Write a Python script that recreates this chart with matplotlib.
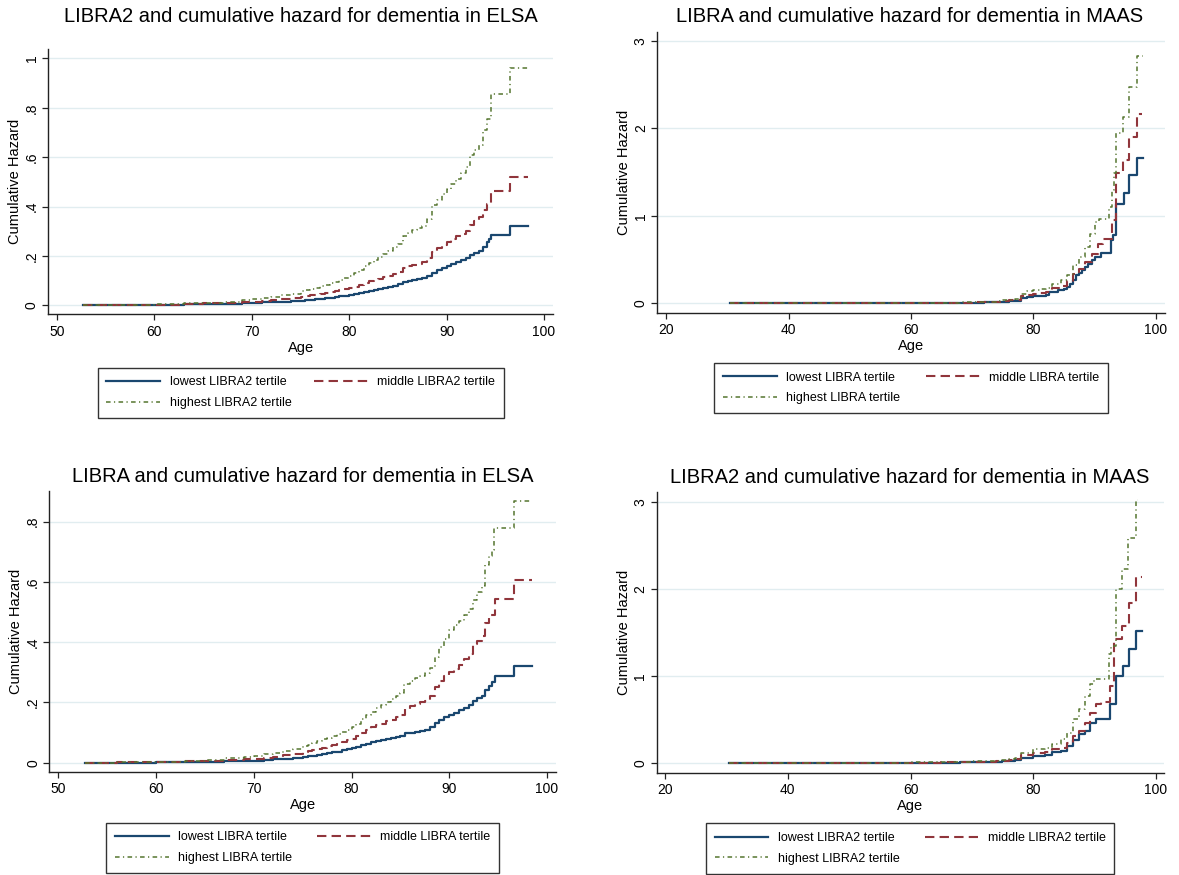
import numpy as np
import matplotlib.pyplot as plt

plt.rcParams['font.family'] = ['Liberation Sans', 'DejaVu Sans']

# ELSA, LIBRA2 tertiles (top left)
elsa2_age_low = [52.7, 56, 60, 63, 65, 67, 69, 70, 71, 72, 73, 74, 75, 75.5, 76, 76.5, 77, 77.5, 78, 78.5, 79, 79.5,
                 80, 80.5, 81, 81.5, 82, 82.5, 83, 83.5, 84, 84.5, 85, 85.5, 86, 86.5, 87, 87.5, 88, 88.5, 89, 89.5,
                 90, 90.5, 91, 91.5, 92, 92.4, 92.8, 93.3, 93.7, 94.1, 94.4, 94.6, 96.5, 98.4]
elsa2_low = [0, 0.0005, 0.002, 0.004, 0.005, 0.007, 0.009, 0.010, 0.012, 0.013, 0.015, 0.017, 0.019, 0.021, 0.023,
             0.025, 0.027, 0.029, 0.032, 0.035, 0.037, 0.040, 0.043, 0.047, 0.051, 0.055, 0.060, 0.064, 0.068, 0.072,
             0.076, 0.080, 0.086, 0.095, 0.098, 0.102, 0.106, 0.109, 0.118, 0.132, 0.142, 0.152, 0.160, 0.168, 0.176,
             0.184, 0.192, 0.205, 0.213, 0.222, 0.238, 0.257, 0.270, 0.286, 0.323, 0.323]
elsa2_age_mid = [52.7, 56, 60, 63, 65, 67, 69, 70, 71, 72, 73, 74, 75, 75.5, 76, 76.5, 77, 77.5, 78, 78.5, 79, 79.5,
                 80, 80.5, 81, 81.5, 82, 82.5, 83, 83.5, 84, 84.5, 85, 85.5, 86, 86.5, 87, 87.5, 88, 88.5, 89, 89.5,
                 90, 90.5, 91, 91.5, 92, 92.4, 92.8, 93.3, 93.7, 94.1, 94.6, 96.5, 98.4]
elsa2_mid = [0, 0.001, 0.003, 0.006, 0.008, 0.010, 0.013, 0.015, 0.018, 0.021, 0.025, 0.030, 0.035, 0.038, 0.041,
             0.044, 0.047, 0.050, 0.054, 0.058, 0.062, 0.066, 0.070, 0.076, 0.083, 0.090, 0.097, 0.103, 0.108, 0.114,
             0.120, 0.127, 0.135, 0.150, 0.158, 0.164, 0.169, 0.174, 0.190, 0.217, 0.232, 0.246, 0.258, 0.270, 0.280,
             0.291, 0.300, 0.325, 0.342, 0.358, 0.385, 0.412, 0.464, 0.521, 0.521]
elsa2_age_high = [52.7, 56, 60, 63, 65, 67, 69, 70, 71, 72, 73, 74, 75, 75.5, 76, 76.5, 77, 77.5, 78, 78.5, 79, 79.5,
                  80, 80.5, 81, 81.5, 82, 82.5, 83, 83.5, 84, 84.5, 85, 85.5, 86, 86.5, 87, 87.5, 88, 88.5, 89, 89.5,
                  90, 90.5, 91, 91.5, 92, 92.4, 92.8, 93.3, 93.7, 94.1, 94.6, 96.5, 98.4]
elsa2_high = [0, 0.001, 0.004, 0.008, 0.011, 0.015, 0.021, 0.025, 0.030, 0.035, 0.041, 0.048, 0.057, 0.061, 0.066,
              0.071, 0.077, 0.082, 0.090, 0.095, 0.102, 0.110, 0.120, 0.132, 0.145, 0.160, 0.172, 0.183, 0.195, 0.208,
              0.222, 0.236, 0.250, 0.283, 0.295, 0.305, 0.312, 0.320, 0.350, 0.405, 0.425, 0.450, 0.470, 0.492, 0.512,
              0.535, 0.560, 0.610, 0.630, 0.650, 0.710, 0.755, 0.854, 0.960, 0.960]

# MAAS, LIBRA tertiles (top right)
maas_age_low = [30.4, 50, 60, 65, 68, 70, 72, 74, 75, 76, 77, 78, 79, 80, 81, 82, 82.5, 84, 85, 85.5, 86, 86.5, 87,
                87.5, 88, 88.5, 89, 89.5, 90, 91, 92.6, 93.05, 93.45, 94.8, 95.6, 96.9, 97.9]
maas_low = [0, 0, 0.001, 0.002, 0.004, 0.006, 0.009, 0.013, 0.017, 0.022, 0.030, 0.057, 0.070, 0.084, 0.088, 0.092,
            0.130, 0.149, 0.168, 0.190, 0.225, 0.270, 0.320, 0.350, 0.385, 0.420, 0.454, 0.500, 0.530, 0.576, 0.729,
            0.779, 1.141, 1.256, 1.466, 1.664, 1.664]
maas_age_mid = [30.4, 50, 60, 65, 68, 70, 72, 74, 75, 76, 77, 78, 79, 80, 81, 82, 83, 84.5, 85.5, 86.5, 87.5, 88.5,
                89.5, 90.5, 91.3, 92.8, 93.5, 94.7, 95.6, 96.9, 97.8]
maas_mid = [0, 0, 0.002, 0.004, 0.007, 0.010, 0.013, 0.018, 0.024, 0.032, 0.042, 0.084, 0.100, 0.110, 0.120, 0.130,
            0.176, 0.195, 0.256, 0.340, 0.397, 0.473, 0.561, 0.683, 0.740, 0.950, 1.485, 1.637, 1.905, 2.164, 2.164]
maas_age_high = [30.4, 50, 60, 65, 68, 70, 72, 74, 75, 76, 77, 78, 79, 80, 81, 82, 83, 84.5, 85.5, 86.5, 87.5, 88.5,
                 89.3, 90.0, 90.8, 92.3, 92.8, 93.2, 93.55, 94.7, 95.7, 96.9, 97.9]
maas_high = [0, 0, 0.003, 0.006, 0.010, 0.014, 0.019, 0.026, 0.032, 0.042, 0.053, 0.110, 0.135, 0.156, 0.165, 0.180,
             0.225, 0.263, 0.320, 0.435, 0.530, 0.645, 0.798, 0.931, 0.962, 1.100, 1.300, 1.485, 1.943, 2.134, 2.477,
             2.828, 2.828]

# ELSA, LIBRA tertiles (bottom left)
elsa_age_low = [52.7, 56, 60, 63, 65, 67, 69, 70, 71, 72, 73, 74, 75, 75.5, 76, 76.5, 77, 77.5, 78, 78.5, 79, 79.5,
                80, 80.5, 81, 81.5, 82, 82.5, 83, 83.5, 84, 84.5, 85, 85.5, 86, 86.5, 87, 87.5, 88, 88.5, 89, 89.5,
                90, 90.5, 91, 91.5, 92, 92.4, 92.8, 93.3, 93.7, 94.1, 94.4, 94.7, 96.6, 98.45]
elsa_low = [0, 0.0005, 0.001, 0.002, 0.003, 0.005, 0.006, 0.007, 0.009, 0.011, 0.013, 0.016, 0.019, 0.021, 0.023,
            0.025, 0.028, 0.031, 0.034, 0.037, 0.041, 0.045, 0.049, 0.053, 0.057, 0.063, 0.068, 0.072, 0.076, 0.079,
            0.082, 0.086, 0.090, 0.097, 0.100, 0.103, 0.105, 0.108, 0.118, 0.133, 0.142, 0.150, 0.158, 0.166, 0.174,
            0.181, 0.190, 0.206, 0.214, 0.222, 0.240, 0.255, 0.268, 0.289, 0.322, 0.322]
elsa_age_mid = [52.7, 56, 60, 63, 65, 67, 69, 70, 71, 72, 73, 74, 75, 75.5, 76, 76.5, 77, 77.5, 78, 78.5, 79, 79.5,
                80, 80.5, 81, 81.5, 82, 82.5, 83, 83.5, 84, 84.5, 85, 85.5, 86, 86.5, 87, 87.5, 88, 88.5, 89, 89.5,
                90, 90.5, 91, 91.5, 92, 92.4, 92.8, 93.3, 93.7, 94.1, 94.7, 96.6, 98.45]
elsa_mid = [0, 0.0008, 0.002, 0.004, 0.006, 0.009, 0.011, 0.013, 0.016, 0.020, 0.024, 0.029, 0.036, 0.039, 0.042,
            0.046, 0.050, 0.055, 0.060, 0.065, 0.070, 0.075, 0.080, 0.088, 0.097, 0.108, 0.118, 0.124, 0.130, 0.137,
            0.143, 0.150, 0.158, 0.178, 0.188, 0.195, 0.200, 0.205, 0.220, 0.250, 0.272, 0.288, 0.300, 0.312, 0.325,
            0.345, 0.362, 0.395, 0.405, 0.420, 0.463, 0.490, 0.543, 0.608, 0.608]
elsa_age_high = [52.7, 56, 60, 63, 65, 67, 69, 70, 71, 72, 73, 74, 75, 75.5, 76, 76.5, 77, 77.5, 78, 78.5, 79, 79.5,
                 80, 80.5, 81, 81.5, 82, 82.5, 83, 83.5, 84, 84.5, 85, 85.4, 86, 86.5, 87, 87.5, 88, 88.5, 89, 89.5,
                 90, 90.5, 91, 91.5, 92, 92.4, 92.8, 93.3, 93.7, 94.1, 94.4, 94.6, 96.6, 98.45]
elsa_high = [0, 0.001, 0.003, 0.006, 0.009, 0.014, 0.019, 0.022, 0.028, 0.033, 0.040, 0.046, 0.055, 0.060, 0.065,
             0.071, 0.077, 0.083, 0.090, 0.096, 0.102, 0.110, 0.118, 0.130, 0.145, 0.158, 0.168, 0.180, 0.190, 0.200,
             0.210, 0.222, 0.232, 0.260, 0.272, 0.280, 0.287, 0.297, 0.315, 0.350, 0.385, 0.412, 0.440, 0.458, 0.470,
             0.490, 0.510, 0.540, 0.565, 0.585, 0.655, 0.685, 0.705, 0.780, 0.870, 0.870]

# MAAS, LIBRA2 tertiles (bottom right)
maas2_age_low = [30.4, 50, 60, 65, 68, 70, 72, 74, 75, 76, 77, 78, 80, 82, 83, 84.5, 85.5, 86.5, 87.5, 88.5, 89.3,
                 90.3, 92.6, 93.45, 94.7, 95.6, 96.7, 97.8]
maas2_low = [0, 0, 0.001, 0.002, 0.004, 0.006, 0.009, 0.012, 0.015, 0.020, 0.027, 0.058, 0.077, 0.088, 0.123, 0.134,
             0.190, 0.260, 0.326, 0.364, 0.460, 0.499, 0.671, 0.997, 1.112, 1.304, 1.515, 1.515]
maas2_age_mid = [30.4, 50, 60, 65, 68, 70, 72, 74, 75, 76, 77, 78, 80, 82, 83, 84.5, 85.5, 86.5, 87.5, 88.5, 89.3,
                 90.2, 91.0, 92.5, 93.2, 94.5, 95.6, 96.7, 97.8]
maas2_mid = [0, 0, 0.002, 0.004, 0.007, 0.010, 0.013, 0.017, 0.022, 0.030, 0.046, 0.084, 0.115, 0.127, 0.153, 0.173,
             0.230, 0.307, 0.364, 0.460, 0.575, 0.671, 0.702, 0.882, 1.420, 1.573, 1.841, 2.140, 2.140]
maas2_age_high = [30.4, 50, 60, 65, 68, 70, 72, 74, 75, 76, 77, 78, 80, 82, 83, 84.5, 85.5, 86.5, 87.5, 88.5, 89.2,
                  90.0, 92.35, 92.7, 93.45, 94.5, 95.5, 96.7, 97.1]
maas2_high = [0, 0, 0.003, 0.006, 0.010, 0.014, 0.019, 0.025, 0.031, 0.042, 0.058, 0.115, 0.153, 0.173, 0.211, 0.269,
              0.345, 0.499, 0.614, 0.767, 0.901, 0.967, 1.250, 1.343, 1.995, 2.225, 2.589, 3.020, 3.020]

elsa_xticks = [50, 60, 70, 80, 90, 100]
maas_xticks = [20, 40, 60, 80, 100]
elsa2_yticks = [0, 0.2, 0.4, 0.6, 0.8, 1.0]
elsa2_ylabels = ['0', '.2', '.4', '.6', '.8', '1']
elsa_yticks = [0, 0.2, 0.4, 0.6, 0.8]
elsa_ylabels = ['0', '.2', '.4', '.6', '.8']
maas_yticks = [0, 1, 2, 3]
maas_ylabels = ['0', '1', '2', '3']

navy = '#1a476f'
maroon = '#90353b'
green = '#55752f'
styles = [dict(color=navy, lw=1.6),
          dict(color=maroon, lw=1.5, dashes=(4.5, 2.5)),
          dict(color=green, lw=1.1, dashes=(3, 2.2, 0.8, 2.2))]

W, H = 1179, 875
fig = plt.figure(figsize=(W / 100, H / 100), dpi=100)
fig.patch.set_facecolor('white')


def panel(box, title, tpos, curves, score, xlim, xticks, ylim, yticks, ylabels, legbox):
    # box / tpos / legbox given in pixels from the top left corner
    x0, y0, x1, y1 = box
    ax = fig.add_axes([x0 / W, 1 - y1 / H, (x1 - x0) / W, (y1 - y0) / H])
    names = ['lowest %s tertile' % score, 'middle %s tertile' % score, 'highest %s tertile' % score]
    lines = []
    for (a, v), st in zip(curves, styles):
        ln, = ax.step(a, v, where='post', **st)
        lines.append(ln)
    ax.set_xlim(xlim)
    ax.set_ylim(ylim)
    ax.set_xticks(xticks)
    ax.set_yticks(yticks)
    ax.set_yticklabels(ylabels)
    plt.setp(ax.get_yticklabels(), rotation=90, va='center')
    ax.tick_params(direction='out', length=4, width=0.9, labelsize=10, color='#222222')
    ax.tick_params(axis='x', pad=3.5)
    ax.tick_params(axis='y', pad=2.5)
    ax.grid(axis='y', color='#e1edf0', lw=1)
    ax.set_axisbelow(True)
    for s in ['top', 'right']:
        ax.spines[s].set_visible(False)
    for s in ['left', 'bottom']:
        ax.spines[s].set_color('#222222')
        ax.spines[s].set_linewidth(1)
    ax.set_xlabel('Age', fontsize=10.5)
    ax.set_ylabel('Cumulative Hazard', fontsize=10.5)
    ax.xaxis.set_label_coords(0.5, -33.5 / (y1 - y0))
    ax.xaxis.label.set_va('center')
    ax.yaxis.set_label_coords(-33 / (x1 - x0), 0.5)
    ax.yaxis.label.set_va('center')
    fig.text(tpos[0] / W, 1 - tpos[1] / H, title, fontsize=14.5, ha='center', va='center')
    lx0, ly0, lx1 = legbox
    leg = ax.legend([lines[0], lines[2], lines[1]], [names[0], names[2], names[1]],
                    ncol=2, mode='expand', loc='upper left',
                    bbox_to_anchor=(lx0 / W, 1 - ly0 / H, (lx1 - lx0) / W, 0),
                    bbox_transform=fig.transFigure, fontsize=9, frameon=True, fancybox=False,
                    edgecolor='black', handlelength=4.3, handletextpad=0.75, labelspacing=0.7,
                    borderpad=0.7, borderaxespad=0)
    leg.get_frame().set_linewidth(1)
    return ax


panel((48, 49.3, 553.4, 314.3), 'LIBRA2 and cumulative hazard for dementia in ELSA', (300.8, 17),
      [(elsa2_age_low, elsa2_low), (elsa2_age_mid, elsa2_mid), (elsa2_age_high, elsa2_high)], 'LIBRA2',
      (49.07, 100.97), elsa_xticks, (-0.036, 1.037), elsa2_yticks, elsa2_ylabels, (97.7, 367.7, 503.8))

panel((656.9, 32.3, 1165.2, 312.7), 'LIBRA and cumulative hazard for dementia in MAAS', (909.5, 16.7),
      [(maas_age_low, maas_low), (maas_age_mid, maas_mid), (maas_age_high, maas_high)], 'LIBRA',
      (18.46, 101.54), maas_xticks, (-0.108, 3.10), maas_yticks, maas_ylabels, (714, 363, 1108))

panel((49.2, 490.7, 556.4, 771.7), 'LIBRA and cumulative hazard for dementia in ELSA', (302.6, 476.7),
      [(elsa_age_low, elsa_low), (elsa_age_mid, elsa_mid), (elsa_age_high, elsa_high)], 'LIBRA',
      (49.07, 100.96), elsa_xticks, (-0.030, 0.903), elsa_yticks, elsa_ylabels, (106.4, 822.7, 499.2))

panel((656.5, 491.7, 1164.4, 772.7), 'LIBRA2 and cumulative hazard for dementia in MAAS', (909.5, 477.3),
      [(maas2_age_low, maas2_low), (maas2_age_mid, maas2_mid), (maas2_age_high, maas2_high)], 'LIBRA2',
      (18.58, 101.4), maas_xticks, (-0.115, 3.12), maas_yticks, maas_ylabels, (705.8, 823.3, 1114.4))

plt.savefig('out.png', dpi=100, facecolor='white')
